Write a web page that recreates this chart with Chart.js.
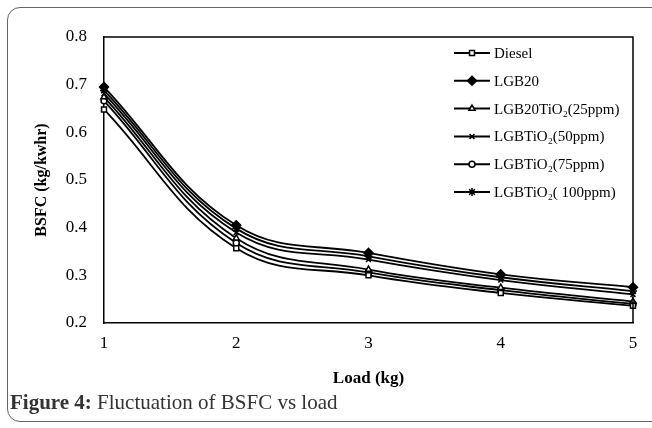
<!DOCTYPE html>
<html>
<head>
<meta charset="utf-8">
<script src="https://cdn.jsdelivr.net/npm/chart.js@4"></script>
<style>
  html, body { margin: 0; padding: 0; background: #fff; overflow: hidden; }
  body { width: 652px; height: 428px; position: relative; }
  #frame {
    position: absolute; left: 7px; top: 7px; width: 690px; height: 415px;
    border: 1px solid #666; border-radius: 13px; box-sizing: border-box;
  }
  #wrap { position: absolute; left: 0; top: 0; width: 652px; height: 428px; }
  #caption {
    position: absolute; left: 10px; top: 390px;
    font-family: "Liberation Serif", serif; font-size: 21px; color: #333;
    white-space: nowrap;
  }
</style>
</head>
<body>
<div id="frame"></div>
<div id="wrap"><canvas id="bsfcChart" width="652" height="428"></canvas></div>
<div id="caption"><b>Figure 4:</b> Fluctuation of BSFC vs load</div>
<script>
// 負荷 (kg)
const loads = [1, 2, 3, 4, 5];

// BSFC (kg/kwhr) - 図から読み取り
const diesel   = [0.648, 0.357, 0.300, 0.263, 0.236];
const lgb20    = [0.695, 0.405, 0.347, 0.302, 0.275];
const tio2_25  = [0.674, 0.378, 0.312, 0.274, 0.245];
const tio2_50  = [0.681, 0.390, 0.333, 0.290, 0.260];
const tio2_75  = [0.666, 0.368, 0.306, 0.269, 0.240];
const tio2_100 = [0.688, 0.398, 0.340, 0.296, 0.267];

const seriesLabels = ["Diesel", "LGB20", "LGB20TiO₂(25ppm)", "LGBTiO₂(50ppm)", "LGBTiO₂(75ppm)", "LGBTiO₂( 100ppm)"];
const seriesValues = [diesel, lgb20, tio2_25, tio2_50, tio2_75, tio2_100];
const markerStyles = ["rect", "rectRot", "triangle", "crossRot", "circle", "star"];
const markerFills  = ["#fff", "#000", "#fff", "#000", "#fff", "#000"];
const markerSizes  = [3.5, 4.5, 3.5, 3.5, 3, 4];
const yTicks = [0.2, 0.3, 0.4, 0.5, 0.6, 0.7, 0.8];

const FONT = "'Liberation Serif', 'Times New Roman', serif";

const datasets = seriesValues.map((vals, i) => ({
    label: seriesLabels[i],
    data: vals.map((v, j) => ({ x: loads[j], y: v })),
    borderColor: '#000',
    borderWidth: 1.8,
    backgroundColor: markerFills[i],
    pointStyle: markerStyles[i],
    pointRadius: markerSizes[i],
    pointBorderColor: '#000',
    pointBackgroundColor: markerFills[i],
    pointBorderWidth: 1.5,
    tension: 0.4,
    clip: false
}));

// 枠線と凡例を描く
const framePlugin = {
    id: 'framePlugin',
    afterDraw(chart) {
        const ctx = chart.ctx;
        const a = chart.chartArea;
        ctx.save();
        ctx.strokeStyle = '#000';
        ctx.lineWidth = 1.5;
        ctx.beginPath();
        ctx.moveTo(a.left, a.top);
        ctx.lineTo(a.right, a.top);
        ctx.lineTo(a.right, a.bottom);
        ctx.stroke();

        // 凡例
        const lx = 454, lw = 36, ly = 53, step = 27.8;
        chart.data.datasets.forEach((ds, i) => {
            const y = ly + i * step;
            ctx.strokeStyle = '#000';
            ctx.lineWidth = 2;
            ctx.beginPath();
            ctx.moveTo(lx, y);
            ctx.lineTo(lx + lw, y);
            ctx.stroke();
            ctx.fillStyle = ds.pointBackgroundColor;
            ctx.strokeStyle = '#000';
            ctx.lineWidth = 1.5;
            Chart.helpers.drawPoint(ctx, {
                pointStyle: ds.pointStyle,
                radius: ds.pointRadius,
                borderWidth: 1.5,
                rotation: 0
            }, lx + lw / 2, y);
            ctx.fillStyle = '#000';
            ctx.font = '15px ' + FONT;
            ctx.textBaseline = 'middle';
            ctx.textAlign = 'left';
            ctx.fillText(ds.label, lx + lw + 4, y + 1);
        });
        ctx.restore();
    }
};

new Chart(document.getElementById('bsfcChart'), {
    type: 'line',
    data: { datasets: datasets },
    plugins: [framePlugin],
    options: {
        responsive: false,
        animation: false,
        devicePixelRatio: 1,
        layout: { padding: { left: 0, top: 37, right: 19, bottom: 35 } },
        plugins: { legend: { display: false }, tooltip: { enabled: false } },
        scales: {
            x: {
                type: 'linear',
                min: 1, max: 5,
                grid: { display: false, drawTicks: false },
                border: { color: '#000', width: 1.5 },
                ticks: {
                    stepSize: 1, padding: 10, color: '#000',
                    font: { family: FONT, size: 17 }
                },
                title: {
                    display: true, text: 'Load (kg)', color: '#000',
                    font: { family: FONT, size: 17, weight: 'bold' },
                    padding: { top: 10, bottom: 4 }
                },
                afterFit(scale) { scale.height = 70; }
            },
            y: {
                min: 0.2, max: 0.8,
                grid: { display: false, drawTicks: false },
                border: { color: '#000', width: 1.5 },
                afterBuildTicks(scale) { scale.ticks = yTicks.map(v => ({ value: v })); },
                ticks: {
                    padding: 17, color: '#000',
                    font: { family: FONT, size: 17 },
                    callback: v => Number(v).toFixed(1)
                },
                title: {
                    display: true, text: 'BSFC (kg/kwhr)', color: '#000',
                    font: { family: FONT, size: 16, weight: 'bold' },
                    padding: { top: 32, bottom: 0 }
                },
                afterFit(scale) { scale.width = 104; }
            }
        }
    }
});
</script>
</body>
</html>
